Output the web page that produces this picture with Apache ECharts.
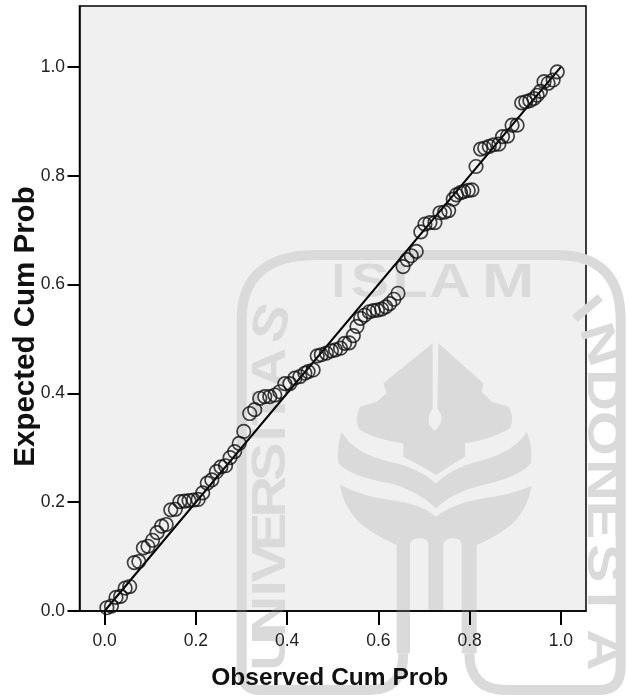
<!DOCTYPE html>
<html><head><meta charset="utf-8">
<style>html,body{margin:0;padding:0;background:#fff}#c{width:629px;height:698px}</style>
<script src="https://cdn.jsdelivr.net/npm/echarts@6/dist/echarts.min.js"></script>
</head><body><div id="c"></div>
<script>
const tickValues = [0,.2,.4,.6,.8,1];
const tickLabels = ['0.0','0.2','0.4','0.6','0.8','1.0'];
const observed = [.005,.015,.025,.035,.045,.055,.065,.075,.085,.095,.105,.115,.125,.135,.145,.155,.165,.175,.185,.195,.205,.215,.225,.235,.245,.255,.265,.275,.285,.295,.305,.318,.329,.340,.351,.362,.373,.384,.395,.406,.417,.428,.439,.446,.457,.466,.475,.486,.497,.506,.517,.526,.536,.545,.553,.561,.570,.580,.589,.598,.607,.616,.625,.634,.643,.654,.663,.672,.683,.693,.702,.713,.724,.735,.745,.754,.764,.771,.780,.787,.797,.805,.814,.824,.833,.843,.853,.864,.872,.883,.893,.904,.914,.923,.932,.941,.948,.955,.963,.972,.983,.992];
const expected = [.006,.009,.025,.027,.042,.045,.089,.091,.116,.119,.130,.144,.156,.159,.186,.187,.201,.202,.203,.204,.205,.217,.235,.241,.256,.265,.267,.282,.293,.308,.330,.363,.370,.391,.394,.394,.397,.403,.418,.418,.428,.431,.437,.440,.443,.469,.471,.474,.478,.480,.483,.492,.493,.506,.523,.538,.544,.550,.552,.553,.555,.559,.565,.573,.584,.633,.646,.653,.661,.697,.711,.714,.714,.732,.733,.736,.757,.765,.769,.771,.773,.774,.817,.849,.851,.854,.857,.858,.872,.873,.893,.893,.934,.936,.938,.942,.948,.955,.973,.970,.976,.991];
const points = observed.map((x,i)=>[x,expected[i]]);
const refLine = [[0,0],[1,1]];

const WM = '#dadada';
const reg = (n,d)=>echarts.graphic.registerShape(n,echarts.graphic.extendPath(d,{}));
reg('wmPen','M728,370 L580,490 L590,520 L560,545 L510,560 Q490,600 510,630 Q560,660 640,670 L640,710 Q700,740 738,765 Q790,730 825,710 L825,670 Q900,660 960,625 Q975,590 955,560 L905,545 L875,515 L880,490 L745,370 L742,565 Q770,600 735,632 Q700,610 728,565 Z');
reg('wmLeaf','M455,635 Q440,680 445,730 Q480,770 600,790 Q680,810 738,865 Q790,815 880,795 Q990,770 1022,730 Q1030,680 1010,635 Q980,690 880,720 Q790,740 738,790 Q680,740 600,725 Q490,700 455,635 Z');
reg('wmStem','M450,795 Q520,830 600,840 Q690,850 738,890 Q790,850 880,835 Q960,825 1025,798 Q1010,880 950,925 Q900,960 860,975 L860,1300 L815,1300 L815,975 Q815,955 790,955 Q760,955 760,975 L760,1170 L715,1170 L715,975 Q715,955 690,955 Q660,955 660,975 L660,1300 L620,1300 L620,975 Q560,950 510,910 Q460,860 450,795 Z');
reg('wmRing','M640,1300 Q640,1410 540,1410 L210,1410 Q155,1410 155,1350 L155,300 Q155,105 380,105 L1100,105 Q1292,105 1292,300 L1292,1340 Q1292,1410 1230,1410 L950,1410 Q838,1410 838,1300');
const zx = v=>190+v/3, zy = v=>220+v/3;
const letter=(t,x,y,r,s)=>({type:'text',x:zx(x),y:zy(y),rotation:r,scaleX:s||1.2,silent:true,z:1,
  style:{text:t,fill:WM,font:'bold 48px "Liberation Sans"',textAlign:'center',textVerticalAlign:'middle'}});
const wmShape=(n,style)=>({type:n,x:190,y:220,scaleX:1/3,scaleY:1/3,silent:true,z:1,style});
const L=Math.PI/2, R=-Math.PI/2;
const watermark=[
  wmShape('wmRing',{fill:'none',stroke:WM,lineWidth:30}),
  wmShape('wmPen',{fill:WM}),wmShape('wmLeaf',{fill:WM}),wmShape('wmStem',{fill:WM}),
  letter('I',445,192,0,1),letter('S',540,192,0),letter('L',660,192,0),letter('A',780,192,0),letter('M',955,192,0,1.3),
  letter('U',245,1290,L),letter('N',245,1190,L),letter('I',245,1105,L),letter('V',245,1030,L),letter('E',245,935,L),letter('R',245,830,L),letter('S',245,725,L),letter('I',245,640,L),letter('T',245,565,L),letter('A',245,445,L),letter('S',250,310,L-0.3),
  letter('I',1185,270,R+0.7),letter('N',1225,375,R+0.3),letter('D',1235,510,R),letter('O',1235,640,R),letter('N',1235,780,R),letter('E',1235,900,R),letter('S',1235,1030,R),letter('I',1235,1140,R),letter('A',1235,1290,R)
];

const chart = echarts.init(document.getElementById('c'),null,{renderer:'canvas'});
const axisCommon = {
  axisLine:{onZero:false,lineStyle:{color:'#000',width:1.5}},
  splitLine:{show:false},
  z:3
};
const nameFont = {fontFamily:'Liberation Sans',fontWeight:'bold',color:'#111'};
chart.setOption({
  animation:false,
  backgroundColor:'#fff',
  graphic:{elements:watermark},
  grid:{left:79.5,right:43,top:6,bottom:87,show:true,backgroundColor:'#f0f0f0',borderColor:'#000',borderWidth:1.5,z:0,outerBoundsMode:'none'},
  xAxis:{type:'value',min:-0.055,max:1.055,name:'Observed Cum Prob',nameLocation:'middle',nameGap:55,nameMoveOverlap:false,
    nameTextStyle:{...nameFont,fontSize:24.5,padding:[0,6,0,0]},
    ...axisCommon,axisTick:{show:true,length:14,customValues:tickValues,lineStyle:{color:'#000',width:2}},
    axisLabel:{fontFamily:'Liberation Sans',fontSize:17.5,color:'#222',margin:21,customValues:tickValues,formatter:v=>tickLabels[Math.round(v*5)]}},
  yAxis:{type:'value',min:0,max:1.112,name:'Expected Cum Prob',nameLocation:'middle',nameGap:39,nameMoveOverlap:false,
    nameTextStyle:{...nameFont,fontSize:29.5,padding:[0,36,0,0]},
    ...axisCommon,axisTick:{show:true,length:12,customValues:tickValues,lineStyle:{color:'#000',width:2}},
    axisLabel:{fontFamily:'Liberation Sans',fontSize:17.5,color:'#222',margin:14.5,customValues:tickValues,formatter:v=>tickLabels[Math.round(v*5)]}},
  series:[
    {type:'line',data:refLine,showSymbol:false,symbol:'none',lineStyle:{color:'#000',width:2},z:4,silent:true},
    {type:'scatter',data:points,symbol:'circle',symbolSize:13.5,itemStyle:{color:'rgba(0,0,0,0)',borderColor:'#111',borderWidth:1.7},z:5}
  ]
});
</script></body></html>
